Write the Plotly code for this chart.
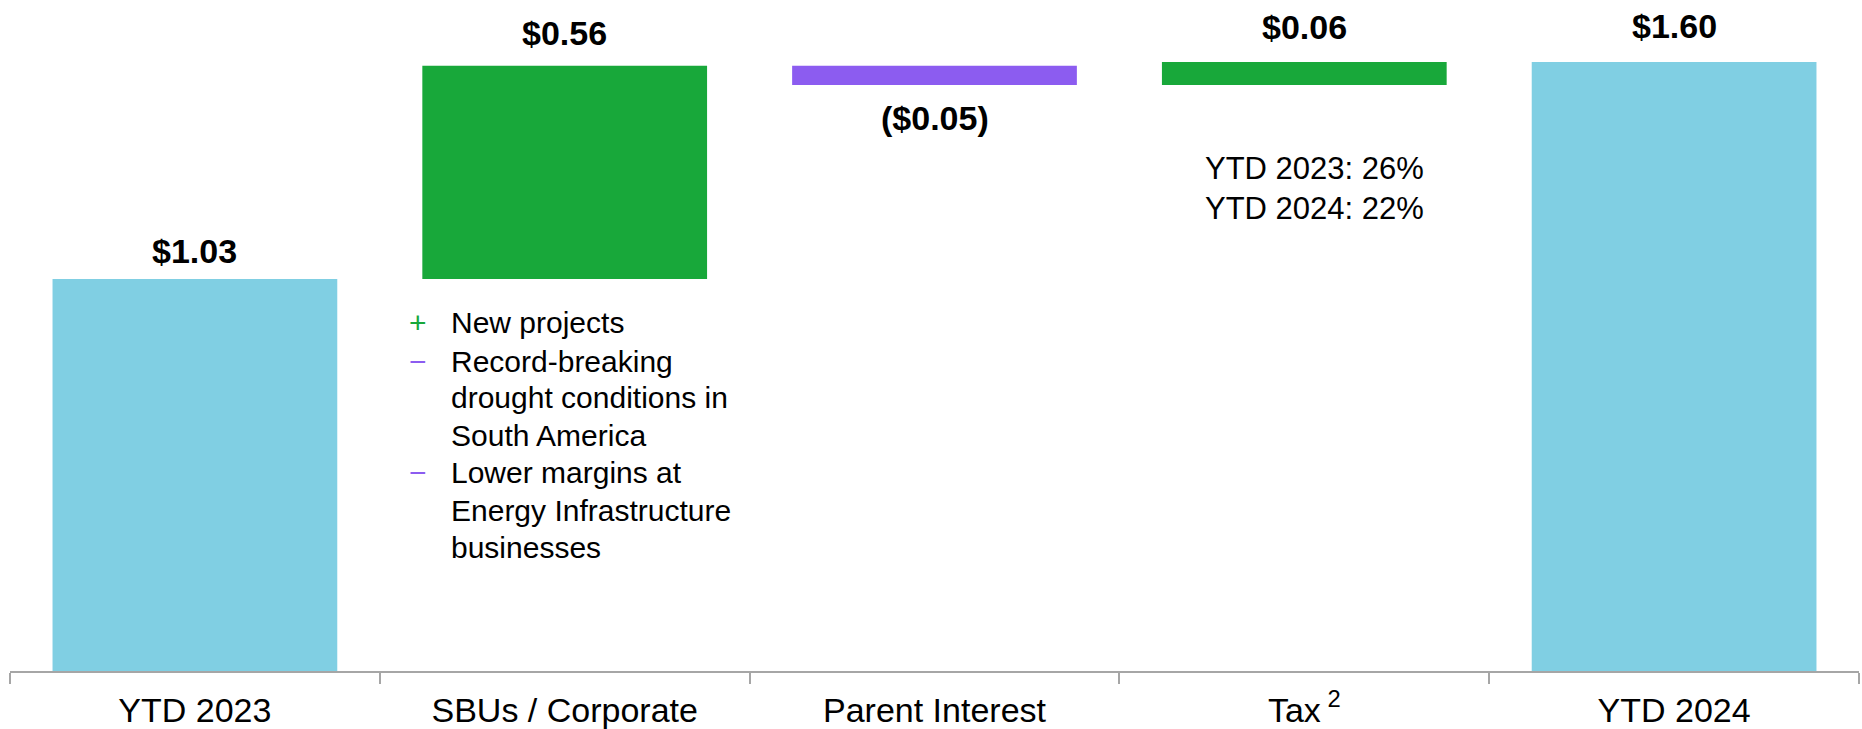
import plotly.graph_objects as go

# ---------------- data ----------------
categories = ["YTD 2023", "SBUs / Corporate", "Parent Interest", "Tax", "YTD 2024"]
tick_labels = ["YTD 2023", "SBUs / Corporate", "Parent Interest", "Tax<sup> 2</sup>", "YTD 2024"]
measures = ["absolute", "relative", "relative", "relative", "total"]
values = [1.03, 0.56, -0.05, 0.06, 1.60]
value_labels = ["$1.03", "$0.56", "($0.05)", "$0.06", "$1.60"]

sbu_bullets = ["+", "\u2212", "", "", "\u2212", "", ""]
sbu_lines = ["New projects", "Record-breaking", "drought conditions in", "South America",
             "Lower margins at", "Energy Infrastructure", "businesses"]
tax_note = ["YTD 2023: 26%", "YTD 2024: 22%"]

# ---------------- style ----------------
BLUE = "#80CFE3"
GREEN = "#18A83A"
PURPLE = "#8C5CF0"
GRAY = "#A6A6A6"
FONT = "Arial, Liberation Sans, sans-serif"

W, H = 1862, 729
PL, PR, PT, PB = 10, 1859, 0, 671  # plot area in pixels

fig = go.Figure(go.Waterfall(
    x=categories,
    y=values,
    measure=measures,
    increasing=dict(marker=dict(color=GREEN, line=dict(width=0))),
    decreasing=dict(marker=dict(color=PURPLE, line=dict(width=0))),
    totals=dict(marker=dict(color=BLUE, line=dict(width=0))),
    connector=dict(visible=False),
    textposition="none",
    hoverinfo="skip",
))

# value labels, placed at the end of each bar
ends = []
run = 0.0
for m, v in zip(measures, values):
    if m == "absolute":
        run = v
    elif m == "relative":
        run += v
    ends.append(run)
label_shift = [28, 33, -33, 35, 36]
annotations = []
for c, e, t, s in zip(categories, ends, value_labels, label_shift):
    annotations.append(dict(x=c, y=e, xref="x", yref="y", text="<b>" + t + "</b>", showarrow=False,
                            yanchor="middle", xanchor="center", yshift=s,
                            font=dict(family=FONT, size=34, color="black")))

def px_x(px):
    return (px - PL) / (PR - PL)

def px_y(py):
    return (PB - py) / (PB - PT)

line_centers = [322.3, 361.3, 397.9, 435.6, 472.9, 510.3, 547.9]
bullet_colors = {"+": GREEN, "\u2212": PURPLE}
for b, t, cy in zip(sbu_bullets, sbu_lines, line_centers):
    annotations.append(dict(x=px_x(449), y=px_y(cy), xref="paper", yref="paper", text=t,
                            showarrow=False, xanchor="left", yanchor="middle",
                            font=dict(family=FONT, size=30, color="black")))
    if b:
        annotations.append(dict(x=px_x(418), y=px_y(cy), xref="paper", yref="paper", text=b,
                                showarrow=False, xanchor="center", yanchor="middle",
                                font=dict(family=FONT, size=30, color=bullet_colors[b])))

annotations.append(dict(x=px_x(1314), y=px_y(188.7), xref="paper", yref="paper",
                        text="<br>".join(tax_note), showarrow=False, align="center",
                        xanchor="center", yanchor="middle",
                        font=dict(family=FONT, size=31, color="black")))

fig.update_layout(
    width=W, height=H, autosize=False,
    margin=dict(l=PL, r=W - PR, t=PT, b=H - PB, pad=0),
    paper_bgcolor="white", plot_bgcolor="white",
    showlegend=False,
    waterfallgap=0.23,
    font=dict(family=FONT, color="black"),
    xaxis=dict(
        type="category", tickmode="array", tickvals=categories, ticktext=tick_labels,
        showline=True, linecolor=GRAY, linewidth=1.5,
        ticks="outside", tickson="boundaries", ticklen=11, tickcolor=GRAY, tickwidth=1.5,
        ticklabelstandoff=8,
        tickfont=dict(family=FONT, size=34, color="black"),
        showgrid=False, zeroline=False, range=[-0.5, 4.5],
    ),
    yaxis=dict(visible=False, range=[0, 671 / 380.6], showgrid=False, zeroline=False),
    annotations=annotations,
)

fig.write_html("out.html", config={"displayModeBar": False},
               post_script="document.body.style.margin='0';")
